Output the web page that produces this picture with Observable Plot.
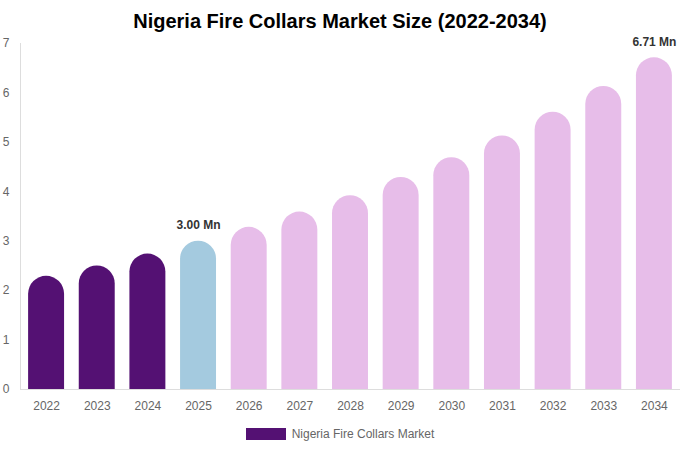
<!DOCTYPE html>
<html>
<head>
<meta charset="utf-8">
<script src="https://cdn.jsdelivr.net/npm/d3@7"></script>
<script src="https://cdn.jsdelivr.net/npm/@observablehq/plot@0.6"></script>
<style>
  body { margin: 0; background: #fff; font-family: "Liberation Sans", Arial, sans-serif; }
  #wrap { width: 680px; }
  #title { height: 36px; line-height: 42px; text-align: center; font-weight: bold; font-size: 20px; color: #000; }
  #legend { height: 30px; display: flex; justify-content: center; align-items: center; font-size: 12px; color: #666; }
  #legend .sw { width: 40px; height: 12px; background: #541173; margin-right: 6px; }
</style>
</head>
<body>
<div id="wrap">
  <div id="title">Nigeria Fire Collars Market Size (2022-2034)</div>
  <div id="chart"></div>
  <div id="legend"><span class="sw"></span><span>Nigeria Fire Collars Market</span></div>
</div>
<script>
const years = ["2022","2023","2024","2025","2026","2027","2028","2029","2030","2031","2032","2033","2034"];
const values = [2.29, 2.50, 2.74, 3.00, 3.28, 3.59, 3.92, 4.29, 4.69, 5.13, 5.61, 6.13, 6.71];
const phase = ["hist","hist","hist","base","fcst","fcst","fcst","fcst","fcst","fcst","fcst","fcst","fcst"];
const labelYears = ["2025","2034"];
const yTicks = [0,1,2,3,4,5,6,7];
const colors = {hist: "#541173", base: "#a4cadf", fcst: "#e7bde9"};

const data = years.map((y, i) => ({year: y, value: values[i], phase: phase[i]}));
const labels = data.filter(d => labelYears.includes(d.year));

const chart = Plot.plot({
  width: 680,
  height: 383,
  marginTop: 7,
  marginLeft: 20,
  marginRight: 0,
  marginBottom: 30,
  style: {fontFamily: '"Liberation Sans", Arial, sans-serif', fontSize: "12px", background: "#fff"},
  x: {domain: years, paddingInner: 0.29, paddingOuter: 0.16, round: false, label: null},
  y: {domain: [0, 7], ticks: yTicks, label: null},
  marks: [
    // rounded caps on top; the rounded bottom is pushed below the baseline and clipped away
    Plot.barY(data, {x: "year", y1: -0.5, y2: "value", fill: d => colors[d.phase], rx: 18, clip: "frame"}),
    Plot.frame({anchor: "left", stroke: "#ddd"}),
    Plot.ruleY([0], {stroke: "#ddd"}),
    Plot.axisX({tickSize: 0, tickPadding: 12, fill: "#666", fontSize: 12}),
    Plot.axisY({ticks: yTicks, tickFormat: d => String(d), tickSize: 0, tickPadding: 11, fill: "#666", fontSize: 12}),
    Plot.text(labels, {x: "year", y: "value", text: d => d.value.toFixed(2) + " Mn", dy: -16, fontWeight: "bold", fill: "#333", fontSize: 12})
  ]
});
document.getElementById("chart").appendChild(chart);
</script>
</body>
</html>
